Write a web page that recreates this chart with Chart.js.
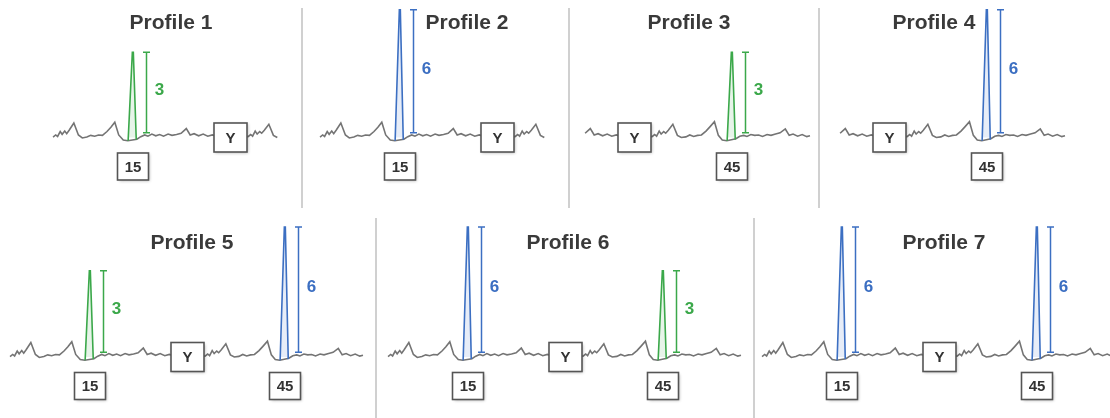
<!DOCTYPE html>
<html>
<head>
<meta charset="utf-8">
<script src="https://cdn.jsdelivr.net/npm/chart.js@4.4.1/dist/chart.umd.min.js"></script>
<style>
  body { margin:0; background:#fff; width:1110px; height:418px; overflow:hidden; position:relative; }
  canvas { position:absolute; }
  .sep { position:absolute; width:2px; background:#d0d0d0; }
</style>
</head>
<body>
<div class="sep" style="left:301px;top:8px;height:200px"></div>
<div class="sep" style="left:568px;top:8px;height:200px"></div>
<div class="sep" style="left:818px;top:8px;height:200px"></div>
<div class="sep" style="left:375px;top:218px;height:200px"></div>
<div class="sep" style="left:753px;top:218px;height:200px"></div>

<canvas id="p1" width="302" height="210" style="left:0px;top:0px"></canvas>
<canvas id="p2" width="266" height="210" style="left:303px;top:0px"></canvas>
<canvas id="p3" width="249" height="210" style="left:570px;top:0px"></canvas>
<canvas id="p4" width="290" height="210" style="left:820px;top:0px"></canvas>
<canvas id="p5" width="376" height="208" style="left:0px;top:210px"></canvas>
<canvas id="p6" width="377" height="208" style="left:377px;top:210px"></canvas>
<canvas id="p7" width="355" height="208" style="left:755px;top:210px"></canvas>

<script>
// trace (position, signal) - noisy baseline
var tracePos = [2.7, 3.1, 3.4, 3.8, 4.1, 4.5, 4.8, 5.2, 5.9, 6.6, 7.2, 7.9, 8.5, 9.1, 9.7, 10.3, 11.0, 11.6, 12.2, 12.8, 13.5, 14.2,
  15.6, 16.2, 16.8, 17.3, 17.9, 18.5, 19.1, 19.7, 20.4, 21.0, 21.7, 22.4, 23.2, 23.8, 24.4, 25.1, 25.8, 26.5, 27.2, 28.0, 29.0, 30.0, 31.0, 32.0,
  32.7, 33.1, 33.4, 33.8, 34.1, 34.5, 34.8, 35.2, 35.9, 36.6, 37.2, 37.9, 38.5, 39.1, 39.7, 40.3, 41.0, 41.6, 42.3, 42.9, 43.5, 44.2,
  45.6, 46.2, 46.8, 47.3, 47.9, 48.5, 49.1, 49.7, 50.4, 51.0, 51.7, 52.4, 53.2, 53.8, 54.4, 55.1, 55.8, 56.5, 57.0];
var traceVal = [0.02, 0.12, 0.05, 0.28, 0.15, 0.30, 0.18, 0.35, 0.68, 0.12, -0.02, 0.02, 0.10, 0.06, 0.12, 0.10, 0.28, 0.48, 0.72, 0.12, -0.12, -0.15,
  -0.08, 0.04, 0.12, 0.06, 0.16, 0.08, 0.14, 0.06, 0.16, 0.10, 0.14, 0.20, 0.42, 0.12, 0.18, 0.08, 0.16, 0.06, 0.12, 0.05, 0.10, 0.05, 0.10, 0.04,
  0.04, 0.14, 0.06, 0.30, 0.16, 0.28, 0.20, 0.34, 0.62, 0.10, 0.00, 0.03, 0.12, 0.05, 0.10, 0.12, 0.30, 0.50, 0.74, 0.10, -0.12, -0.15,
  -0.06, 0.06, 0.10, 0.05, 0.14, 0.10, 0.12, 0.05, 0.14, 0.10, 0.16, 0.22, 0.40, 0.10, 0.16, 0.06, 0.14, 0.04, 0.08];

var profileNames = ['Profile 1', 'Profile 2', 'Profile 3', 'Profile 4', 'Profile 5', 'Profile 6', 'Profile 7'];
// which part of the trace each profile shows
var traceFrom = [2.7, 2.7, 22, 22, 2.7, 2.7, 2.7];
var traceTo   = [37.3, 37.3, 57, 57, 57, 57, 57];
// peaks: position, drawn height, label, colour kind
var peakPos    = [[15], [15], [45], [45], [15, 45], [15, 45], [15, 45]];
var peakHeight = [[4.0], [6.0], [4.0], [6.0], [4.05, 6.1], [6.1, 4.05], [6.1, 6.1]];
var peakLabel  = [['3'], ['6'], ['3'], ['6'], ['3', '6'], ['6', '3'], ['6', '6']];
var peakKind   = [['g'], ['b'], ['g'], ['b'], ['g', 'b'], ['b', 'g'], ['b', 'b']];
var markerPos = 30;
var markerText = 'Y';

// layout of the panels (px)
var anchor15 = [133, 97, -33, -28, 90, 91, 87];   // pixel of position 15 inside canvas
var titleX   = [171, 164, 119, 114, 192, 191, 189];
var titleY   = [23, 23, 23, 23, 33, 33, 33];
var baseY    = [137.5, 137.5, 137.5, 137.5, 147, 147, 147];
var pxPerPos = 6.5;
var pxPerUnit = 21.3;

var colors = { g: '#3ba84a', b: '#3c6fc2' };
var fills  = { g: 'rgba(59,168,74,0.12)', b: 'rgba(60,111,194,0.12)' };
var gray = '#747474';

function drawBox(ctx, cx, cy, w, h, txt) {
  ctx.save();
  ctx.shadowColor = 'rgba(0,0,0,0.3)';
  ctx.shadowBlur = 3;
  ctx.shadowOffsetX = 1;
  ctx.shadowOffsetY = 1;
  ctx.fillStyle = '#fff';
  ctx.fillRect(cx - w / 2, cy - h / 2, w, h);
  ctx.restore();
  ctx.save();
  ctx.strokeStyle = '#555';
  ctx.lineWidth = 1.6;
  ctx.strokeRect(cx - w / 2, cy - h / 2, w, h);
  ctx.fillStyle = '#333';
  ctx.font = 'bold 15px "Liberation Sans", Arial, sans-serif';
  ctx.textAlign = 'center';
  ctx.textBaseline = 'middle';
  ctx.fillText(txt, cx, cy + 1);
  ctx.restore();
}

var extras = {
  id: 'extras',
  afterDatasetsDraw: function(chart) {
    var i = chart.options.plugins.extras.index;
    var ctx = chart.ctx;
    var xs = chart.scales.x, ys = chart.scales.y;
    var y0 = ys.getPixelForValue(0);

    // height bars + labels
    for (var k = 0; k < peakPos[i].length; k++) {
      var c = colors[peakKind[i][k]];
      var bx = Math.round(xs.getPixelForValue(peakPos[i][k] + 2)) + 0.5;
      var top = ys.getPixelForValue(peakHeight[i][k]);
      var bot = ys.getPixelForValue(0.22);
      ctx.save();
      ctx.strokeStyle = c;
      ctx.lineWidth = 1.5;
      ctx.beginPath();
      ctx.moveTo(bx, top); ctx.lineTo(bx, bot);
      ctx.moveTo(bx - 3.5, top); ctx.lineTo(bx + 3.5, top);
      ctx.moveTo(bx - 3.5, bot); ctx.lineTo(bx + 3.5, bot);
      ctx.stroke();
      ctx.fillStyle = c;
      ctx.font = 'bold 17px "Liberation Sans", Arial, sans-serif';
      ctx.textAlign = 'center';
      ctx.textBaseline = 'middle';
      ctx.fillText(peakLabel[i][k], bx + 13, (top + bot) / 2 - 2);
      ctx.restore();
      // position box under the peak
      drawBox(ctx, xs.getPixelForValue(peakPos[i][k]), y0 + 29, 31, 27, String(peakPos[i][k]));
    }
    // marker box on the baseline
    drawBox(ctx, xs.getPixelForValue(markerPos), y0, 33, 29, markerText);

    // title
    ctx.save();
    ctx.fillStyle = '#3a3a3a';
    ctx.font = 'bold 21px "Liberation Sans", Arial, sans-serif';
    ctx.textAlign = 'center';
    ctx.textBaseline = 'middle';
    ctx.fillText(profileNames[i], titleX[i], titleY[i]);
    ctx.restore();
  }
};

for (var i = 0; i < 7; i++) {
  var canvas = document.getElementById('p' + (i + 1));
  var w = canvas.width, h = canvas.height;

  var pts = [];
  for (var j = 0; j < tracePos.length; j++) {
    if (tracePos[j] >= traceFrom[i] - 0.01 && tracePos[j] <= traceTo[i] + 0.01) {
      pts.push({ x: tracePos[j], y: traceVal[j] });
    }
  }
  var ds = [{ data: pts, borderColor: gray, borderWidth: 1.6, pointRadius: 0, fill: false, order: 2 }];
  for (var k = 0; k < peakPos[i].length; k++) {
    var p = peakPos[i][k], ph = peakHeight[i][k];
    ds.push({
      data: [{ x: p - 0.75, y: -0.15 }, { x: p - 0.1, y: ph }, { x: p + 0.05, y: ph }, { x: p + 0.5, y: -0.1 }],
      borderColor: colors[peakKind[i][k]],
      backgroundColor: fills[peakKind[i][k]],
      borderWidth: 1.6,
      pointRadius: 0,
      fill: 'origin',
      order: 1
    });
  }

  var xmin = 15 - anchor15[i] / pxPerPos;
  var ymax = baseY[i] / pxPerUnit;

  new Chart(canvas.getContext('2d'), {
    type: 'line',
    data: { datasets: ds },
    options: {
      responsive: false,
      animation: false,
      layout: { padding: 0 },
      elements: { line: { tension: 0 } },
      plugins: {
        legend: { display: false },
        tooltip: { enabled: false },
        extras: { index: i }
      },
      scales: {
        x: { type: 'linear', min: xmin, max: xmin + w / pxPerPos, display: false },
        y: { type: 'linear', min: ymax - h / pxPerUnit, max: ymax, display: false }
      }
    },
    plugins: [extras]
  });
}
</script>
</body>
</html>
